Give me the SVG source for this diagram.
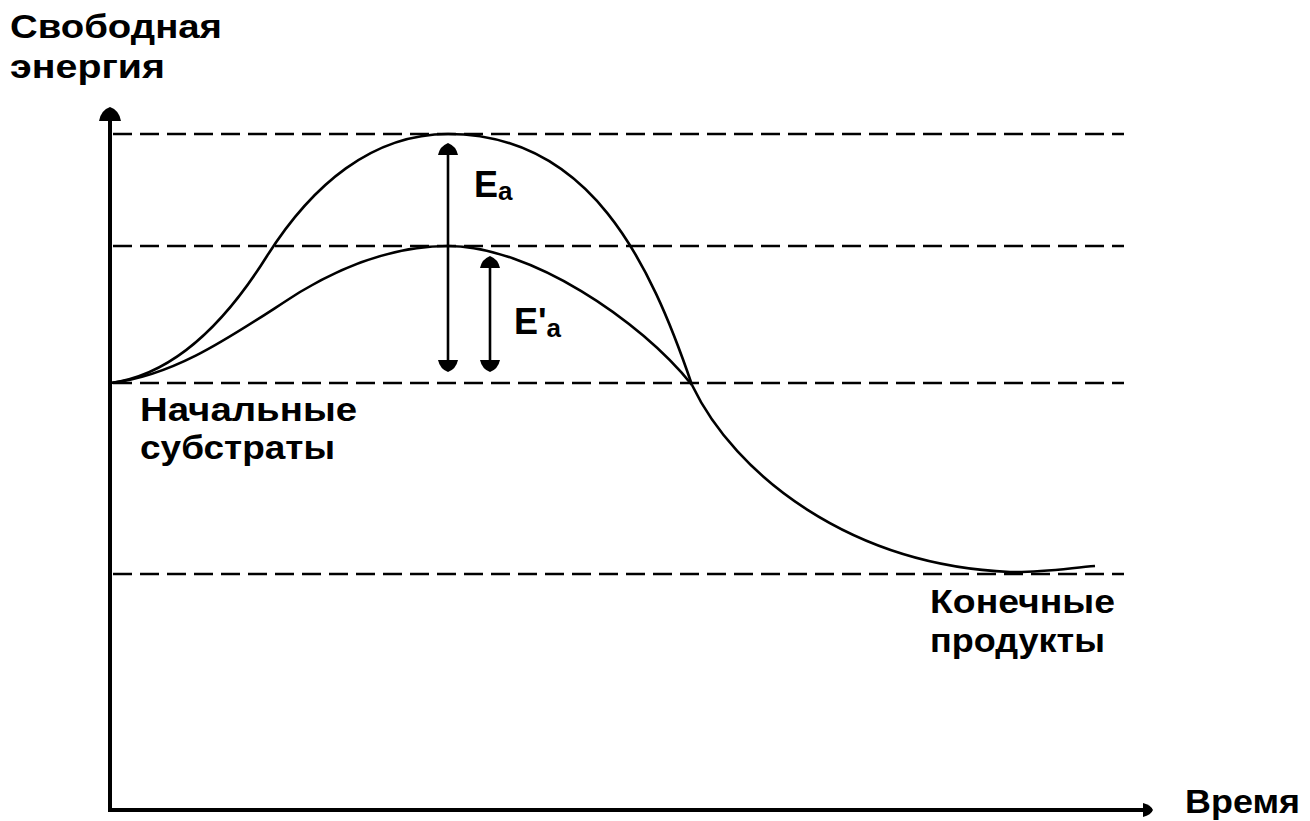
<svg xmlns="http://www.w3.org/2000/svg" width="1310" height="821" viewBox="0 0 1310 821">
<style>
.lbl{font-family:"Liberation Sans",Arial,sans-serif;font-weight:bold;font-size:33px;fill:#000}
.big{font-size:36px}
.sub{font-size:26px}
.dash{stroke:#000;stroke-width:2.5;stroke-dasharray:19 8;fill:none}
.curve{stroke:#000;stroke-width:2.6;fill:none}
.axis{stroke:#000;stroke-width:4;fill:none}
.ea{stroke:#000;stroke-width:2.6;fill:none}
</style>
<defs>
<marker id="dome" viewBox="0 0 12 20" refX="10" refY="10" markerUnits="userSpaceOnUse" markerWidth="12" markerHeight="20" orient="auto-start-reverse">
<path d="M0,0 Q9,2 12,10 Q9,18 0,20 Z" fill="#000"/>
</marker>
<marker id="axhead" viewBox="0 0 14 22" refX="13" refY="11" markerUnits="userSpaceOnUse" markerWidth="14" markerHeight="22" orient="auto">
<path d="M0,0 Q11,2 14,11 Q11,20 0,22 Z" fill="#000"/>
</marker>
<marker id="axheadx" viewBox="0 0 10 14" refX="9" refY="7" markerUnits="userSpaceOnUse" markerWidth="10" markerHeight="14" orient="auto">
<path d="M0,0 Q8,2 10,7 Q8,12 0,14 Z" fill="#000"/>
</marker>
</defs>

<g id="levels">
<line class="dash" x1="113" y1="134" x2="1124" y2="134"/>
<line class="dash" x1="113" y1="246" x2="1124" y2="246"/>
<line class="dash" x1="113" y1="383" x2="1124" y2="383"/>
<line class="dash" x1="113" y1="574" x2="1124" y2="574"/>
</g>

<g id="axes">
<path class="axis" d="M110,810 L110,108" marker-end="url(#axhead)"/>
<path class="axis" d="M108,810 L1152,810" stroke-width="3" marker-end="url(#axheadx)"/>
</g>

<g id="curve-uncatalysed">
<path class="curve" d="M111,383 C170,375 222,328 267,256 C312,185 372,134 448,134 C590,134 650,262 692,385"/>
</g>
<g id="curve-catalysed">
<path class="curve" d="M111,383 C180,375 240,330 300,292 C350,262 400,246 448,246 C530,246 640,320 692,385"/>
</g>
<g id="curve-products">
<path class="curve" d="M692,385 C735,475 850,565 1010,572 C1040,573 1070,568 1095,566"/>
</g>

<g id="connectors">
<line class="ea" x1="448" y1="370" x2="448" y2="145" marker-start="url(#dome)" marker-end="url(#dome)"/>
<line class="ea" x1="490" y1="370" x2="490" y2="258" marker-start="url(#dome)" marker-end="url(#dome)"/>
</g>

<g id="label-y">
<text class="lbl" x="10" y="38" textLength="212" lengthAdjust="spacingAndGlyphs">Свободная</text>
<text class="lbl" x="10" y="78" textLength="155" lengthAdjust="spacingAndGlyphs">энергия</text>
</g>
<g id="label-ea">
<text class="lbl big" x="474" y="197">E<tspan class="sub" dy="3">a</tspan></text>
</g>
<g id="label-ea2">
<text class="lbl big" x="514" y="334">E'<tspan class="sub" dy="3">a</tspan></text>
</g>
<g id="label-start">
<text class="lbl" x="140" y="421" textLength="217" lengthAdjust="spacingAndGlyphs">Начальные</text>
<text class="lbl" x="140" y="459" textLength="195" lengthAdjust="spacingAndGlyphs">субстраты</text>
</g>
<g id="label-end">
<text class="lbl" x="930" y="613" textLength="185" lengthAdjust="spacingAndGlyphs">Конечные</text>
<text class="lbl" x="930" y="652" textLength="175" lengthAdjust="spacingAndGlyphs">продукты</text>
</g>
<g id="label-x">
<text class="lbl" x="1185" y="813" textLength="115" lengthAdjust="spacingAndGlyphs">Время</text>
</g>
</svg>
